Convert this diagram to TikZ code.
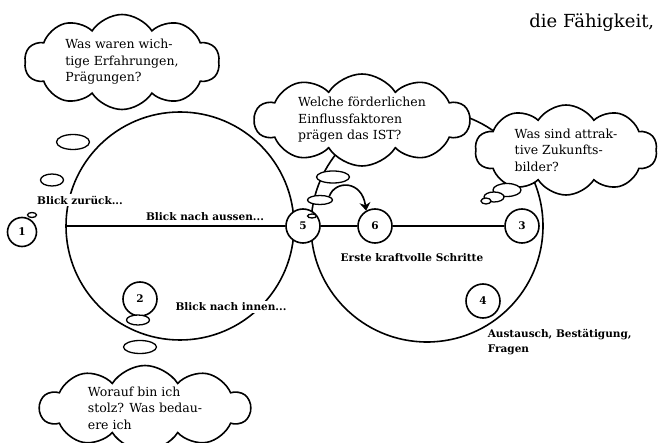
\documentclass[tikz,border=0pt]{standalone}
\usepackage{fontspec}
\setmainfont{DejaVu Serif}
\usetikzlibrary{shapes.geometric,shapes.symbols,arrows.meta}

\begin{document}
\begin{tikzpicture}[x=1pt, y=-1pt, line width=1.6pt, >=Stealth]
  % Define styles
  \tikzstyle{ring} = [circle, draw, inner sep=0pt]
  \tikzstyle{station} = [circle, draw, fill=white, minimum size=34pt, inner sep=0pt, font=\fontsize{10.5}{12}\selectfont\bfseries]
  \tikzstyle{thought} = [cloud, draw, fill=white, cloud puffs=10, cloud puff arc=115, cloud ignores aspect, inner sep=0pt, align=left, font=\fontsize{12.5}{16.5}\selectfont]
  \tikzstyle{bubble} = [ellipse, draw, fill=white, inner sep=0pt, line width=1.3pt]
  \tikzstyle{remark} = [fill=white, inner sep=2pt, font=\fontsize{10.5}{15}\selectfont\bfseries]

  \useasboundingbox (0,0) rectangle (659,443);

  % Two big circles: looking back and looking forward
  \node[ring, minimum size=228pt] (rueck) at (180,226) {};
  \node[ring, minimum size=232pt] (vor) at (427,226) {};

  % Thought clouds
  \node[thought, minimum width=195pt, minimum height=95pt] (wolke1) at (122,62) {Was waren wich-\\tige Erfahrungen,\\Prägungen?};
  \node[thought, minimum width=215pt, minimum height=92pt] (wolke2) at (362,120) {Welche förderlichen\\Einflussfaktoren\\prägen das IST?};
  \node[thought, minimum width=182pt, minimum height=90pt] (wolke3) at (566,150) {Was sind attrak-\\tive Zukunfts-\\bilder?};
  \node[thought, minimum width=210pt, minimum height=85pt] (wolke4) at (145,408) {Worauf bin ich\\stolz? Was bedau-\\ere ich};

  % Small bubbles leading down from the clouds
  \node[bubble, minimum width=33pt, minimum height=15pt] (b1a) at (73,142) {};
  \node[bubble, minimum width=23pt, minimum height=12pt] (b1b) at (52,180) {};
  \node[bubble, minimum width=33pt, minimum height=12pt] (b5a) at (333,177) {};
  \node[bubble, minimum width=25pt, minimum height=9pt] (b5b) at (320,200) {};
  \node[bubble, minimum width=28pt, minimum height=13pt] (b3a) at (507,190) {};
  \node[bubble, minimum width=20pt, minimum height=10pt] (b3b) at (494,197) {};
  \node[bubble, minimum width=10pt, minimum height=6pt] (b3c) at (486,201) {};
  \node[bubble, minimum width=33pt, minimum height=13pt] (b2b) at (140,347) {};

  % Numbered steps
  \node[station, minimum size=29pt] (n1) at (22,232) {1};
  \node[station] (n2) at (140,299) {2};
  \node[station] (n3) at (522,226) {3};
  \node[station] (n4) at (483,301) {4};
  \node[station] (n5) at (303,226) {5};
  \node[station] (n6) at (375,226) {6};
  \node[bubble, minimum width=9pt, minimum height=5pt] (b1c) at (32,215) {};
  \node[bubble, minimum width=9pt, minimum height=4pt] (b5c) at (312,216) {};
  \node[bubble, minimum width=23pt, minimum height=10pt] (b2a) at (138,320) {};

  % Horizontal axis through the circles
  \draw (rueck.west) -- (n5);
  \draw (n5) -- (n6);
  \draw (n6) -- (n3);

  % Curved arrow from 5 to 6
  \draw[-{Stealth[length=8pt,width=11pt]}] (b5b.north east) .. controls (335,180) and (362,180) .. (n6.120);

  % Labels
  \node[remark] (zurueck) at (80,200) {Blick zurück...};
  \node[remark] (aussen) at (205,217) {Blick nach aussen...};
  \node[remark] (innen) at (231,307) {Blick nach innen...};
  \node[remark] (schritte) at (412,258) {Erste kraftvolle Schritte};
  \node[remark, align=left, anchor=north west] (austausch) at (485,326) {Austausch, Bestätigung,\\Fragen};
  \node[font=\fontsize{18}{21}\selectfont, anchor=base east, inner sep=0pt] (faehig) at (655,28) {die Fähigkeit,};
\end{tikzpicture}
\end{document}
